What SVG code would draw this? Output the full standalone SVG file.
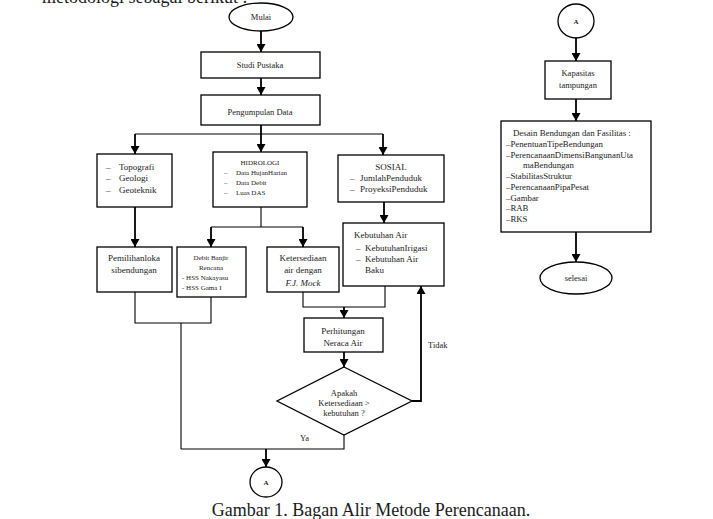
<svg xmlns="http://www.w3.org/2000/svg" width="713" height="519" viewBox="0 0 713 519">
<style>
.bx{fill:#fff;stroke:#000;stroke-width:1.3}
.ln{fill:none;stroke:#000;stroke-width:1.1}
.ar{fill:none;stroke:#000;stroke-width:1.8;marker-end:url(#ah)}
text{font-family:"Liberation Serif","Times New Roman",serif;fill:#1a1a1a}
.t9{font-size:9px}
.t8{font-size:8.5px}
.t7{font-size:7px}
.td{font-size:8.8px}
.c{text-anchor:middle}
</style>
<defs>
<marker id="ah" viewBox="0 0 10 10" refX="10" refY="5" markerWidth="8" markerHeight="9" markerUnits="userSpaceOnUse" orient="auto" preserveAspectRatio="none">
<path d="M0,0 L10,5 L0,10 z" fill="#000"/>
</marker>
</defs>
<rect width="713" height="519" fill="#fff"/>
<text x="42" y="3" style="font-size:18px">metodologi sebagai berikut :</text>
<text x="371" y="516" class="c" style="font-size:18px">Gambar 1. Bagan Alir Metode Perencanaan.</text>

<g id="connectors">
<path class="ar" d="M261,31 V52"/>
<path class="ar" d="M261,78 V95"/>
<path class="ln" d="M135,134 H383"/>
<path class="ar" d="M261,125 V152"/>
<path class="ar" d="M135,134 V154"/>
<path class="ar" d="M383,134 V155"/>
<path class="ar" d="M135,207 V247"/>
<path class="ln" d="M261,207 V227 M211,227 H303"/>
<path class="ar" d="M211,227 V247"/>
<path class="ar" d="M303,227 V247"/>
<path class="ar" d="M384,202 V223"/>
<path class="ln" d="M135,292 V323 H211 V297 M181,323 V449"/>
<path class="ln" d="M303,292 V307 H385 V286"/>
<path class="ar" d="M344,307 V318"/>
<path class="ar" d="M344,352 V367"/>
<path class="ln" d="M344,435 V449 H181"/>
<path class="ar" d="M266,449 V467"/>
<path class="ar" d="M412,401 H421 V286"/>
<text x="428" y="348" class="t8">Tidak</text>
<text x="300" y="441" class="t8">Ya</text>
<path class="ar" d="M576,38 V61"/>
<path class="ar" d="M576,99 V121"/>
<path class="ar" d="M576,232 V262"/>
</g>

<g id="mulai">
<ellipse class="bx" cx="261" cy="17" rx="32" ry="14"/>
<text x="261" y="20" class="t8 c">Mulai</text>
</g>
<g id="studi">
<rect class="bx" x="201" y="52" width="119" height="26"/>
<text x="260" y="68" class="t8 c">Studi Pustaka</text>
</g>
<g id="pengumpulan">
<rect class="bx" x="201" y="95" width="119" height="30"/>
<text x="260" y="115" class="t8 c">Pengumpulan Data</text>
</g>
<g id="topografi">
<rect class="bx" x="97" y="154" width="75" height="53"/>
<text class="t9"><tspan x="106" y="170">–</tspan><tspan x="119" y="170">Topografi</tspan><tspan x="106" y="181">–</tspan><tspan x="119" y="181">Geologi</tspan><tspan x="106" y="193">–</tspan><tspan x="119" y="193">Geoteknik</tspan></text>
</g>
<g id="hidrologi">
<rect class="bx" x="213" y="152" width="94" height="55"/>
<text x="260" y="165" class="t7 c">HIDROLOGI</text>
<text class="t7"><tspan x="224" y="175">–</tspan><tspan x="236" y="175">Data HujanHarian</tspan><tspan x="224" y="185">–</tspan><tspan x="236" y="185">Data Debit</tspan><tspan x="224" y="195">–</tspan><tspan x="236" y="195">Luas DAS</tspan></text>
</g>
<g id="sosial">
<rect class="bx" x="338" y="155" width="106" height="47"/>
<text x="391" y="170" class="t9 c">SOSIAL</text>
<text class="t9"><tspan x="350" y="181">–</tspan><tspan x="360" y="181">JumlahPenduduk</tspan><tspan x="350" y="192">–</tspan><tspan x="360" y="192">ProyeksiPenduduk</tspan></text>
</g>
<g id="pemilihan">
<rect class="bx" x="97" y="247" width="75" height="45"/>
<text x="134" y="261" class="t9 c">Pemilihanloka</text>
<text x="134" y="273" class="t9 c">sibendungan</text>
</g>
<g id="debit">
<rect class="bx" x="177" y="247" width="69" height="50"/>
<text x="211" y="260" class="t7 c">Debit Banjir</text>
<text x="211" y="270" class="t7 c">Rencana</text>
<text class="t7"><tspan x="182" y="280">-  HSS Nakayasu</tspan><tspan x="182" y="290">-  HSS Gama I</tspan></text>
</g>
<g id="ketersediaan">
<rect class="bx" x="267" y="247" width="72" height="45"/>
<text x="303" y="261" class="t9 c">Ketersediaan</text>
<text x="303" y="273" class="t9 c">air dengan</text>
<text x="303" y="286" class="t9 c" font-style="italic">F.J. Mock</text>
</g>
<g id="kebutuhan">
<rect class="bx" x="343" y="223" width="101" height="63"/>
<text x="354" y="238" class="t9">Kebutuhan Air</text>
<text class="t9"><tspan x="356" y="251">–</tspan><tspan x="365" y="251">KebutuhanIrigasi</tspan><tspan x="356" y="262">–</tspan><tspan x="365" y="262">Kebutuhan  Air</tspan><tspan x="365" y="273">Baku</tspan></text>
</g>
<g id="perhitungan">
<rect class="bx" x="304" y="318" width="79" height="34"/>
<text x="343" y="334" class="t9 c">Perhitungan</text>
<text x="343" y="346" class="t9 c">Neraca Air</text>
</g>
<g id="apakah">
<path class="bx" d="M344,367 L412,401 L344,435 L277,401 Z"/>
<text x="344" y="396" class="t8 c">Apakah</text>
<text x="344" y="406" class="t8 c">Ketersediaan &gt;</text>
<text x="344" y="416" class="t8 c">kebutuhan ?</text>
</g>
<g id="a-bottom">
<ellipse class="bx" cx="266" cy="482" rx="16" ry="15"/>
<text x="266" y="485" class="t7 c" font-weight="bold">A</text>
</g>
<g id="a-top">
<ellipse class="bx" cx="576" cy="21" rx="18" ry="17"/>
<text x="576" y="24" class="t7 c" font-weight="bold">A</text>
</g>
<g id="kapasitas">
<rect class="bx" x="545" y="61" width="66" height="38"/>
<text x="578" y="76" class="t8 c">Kapasitas</text>
<text x="578" y="88" class="t8 c">tampungan</text>
</g>
<g id="desain">
<rect class="bx" x="501" y="121" width="150" height="111"/>
<text x="513" y="136" class="td">Desain Bendungan dan  Fasilitas :</text>
<text class="td"><tspan x="506" y="147">–PenentuanTipeBendungan</tspan><tspan x="506" y="158">–PerencanaanDimensiBangunanUta</tspan><tspan x="523" y="168">maBendungan</tspan><tspan x="506" y="179">–StabilitasStruktur</tspan><tspan x="506" y="190">–PerencanaanPipaPesat</tspan><tspan x="506" y="201">–Gambar</tspan><tspan x="506" y="211">–RAB</tspan><tspan x="506" y="222">–RKS</tspan></text>
</g>
<g id="selesai">
<ellipse class="bx" cx="576" cy="278" rx="36" ry="16"/>
<text x="576" y="281" class="t8 c">selesai</text>
</g>
</svg>
